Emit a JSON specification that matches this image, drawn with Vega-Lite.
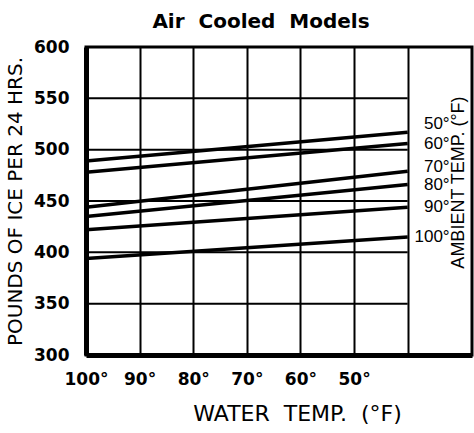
{
  "$schema": "https://vega.github.io/schema/vega-lite/v6.json",
  "width": 386,
  "height": 308,
  "autosize": "none",
  "padding": {"left": 86, "top": 47, "right": 2, "bottom": 78},
  "background": "white",
  "title": {
    "text": "Air\u00a0\u00a0Cooled\u00a0\u00a0Models",
    "font": "DejaVu Sans",
    "fontSize": 20,
    "fontWeight": "bold",
    "color": "black",
    "anchor": "middle",
    "dx": -18,
    "offset": 6
  },
  "config": {
    "view": {"stroke": "black", "strokeWidth": 3},
    "axis": {"domainColor": "black", "domainWidth": 5, "ticks": false, "labelColor": "black", "titleColor": "black"}
  },
  "datasets": {
    "lines": [
      {"water": 100, "ice": 489, "ambient": 50, "label": "50°"},
      {"water": 40, "ice": 517, "ambient": 50, "label": "50°"},
      {"water": 100, "ice": 478, "ambient": 60, "label": "60°"},
      {"water": 40, "ice": 506, "ambient": 60, "label": "60°"},
      {"water": 100, "ice": 444, "ambient": 70, "label": "70°"},
      {"water": 40, "ice": 479, "ambient": 70, "label": "70°"},
      {"water": 100, "ice": 435, "ambient": 80, "label": "80°"},
      {"water": 40, "ice": 466, "ambient": 80, "label": "80°"},
      {"water": 100, "ice": 422, "ambient": 90, "label": "90°"},
      {"water": 40, "ice": 444, "ambient": 90, "label": "90°"},
      {"water": 100, "ice": 394, "ambient": 100, "label": "100°"},
      {"water": 40, "ice": 415, "ambient": 100, "label": "100°"}
    ],
    "grid": [{"g": 350}, {"g": 400}, {"g": 450}, {"g": 500}, {"g": 550}],
    "side": [{"t": "AMBIENT TEMP. (°F)"}]
  },
  "layer": [
    {
      "data": {"name": "grid"},
      "mark": {"type": "rule", "color": "black", "strokeWidth": 2},
      "encoding": {
        "y": {"field": "g", "type": "quantitative"},
        "x": {"datum": 100},
        "x2": {"datum": 40}
      }
    },
    {
      "data": {"name": "lines"},
      "mark": {"type": "line", "color": "black", "strokeWidth": 3.5},
      "encoding": {
        "x": {
          "field": "water",
          "type": "quantitative",
          "scale": {"domain": [28, 100], "reverse": true, "nice": false, "zero": false},
          "axis": {
            "values": [40, 50, 60, 70, 80, 90, 100],
            "labelExpr": "datum.value == 40 ? '' : datum.value + '°'",
            "labelFont": "DejaVu Sans",
            "labelFontSize": 17,
            "labelFontWeight": "bold",
            "labelPadding": 16,
            "labelOverlap": false,
            "labelFlush": false,
            "labelBound": false,
            "grid": true,
            "gridColor": "black",
            "gridWidth": 2,
            "gridOpacity": 1,
            "title": "WATER\u00a0\u00a0TEMP.\u00a0\u00a0(°F)",
            "titleFont": "DejaVu Sans",
            "titleFontSize": 22,
            "titleFontWeight": "normal",
            "titlePadding": 16,
            "titleX": 211,
            "titleAnchor": "middle"
          }
        },
        "y": {
          "field": "ice",
          "type": "quantitative",
          "scale": {"domain": [300, 600], "nice": false, "zero": false},
          "axis": {
            "values": [300, 350, 400, 450, 500, 550, 600],
            "labelFont": "DejaVu Sans",
            "labelFontSize": 17,
            "labelFontWeight": "bold",
            "labelPadding": 17,
            "labelOverlap": false,
            "labelFlush": false,
            "labelBound": false,
            "grid": false,
            "title": "POUNDS OF ICE PER 24 HRS.",
            "titleFont": "DejaVu Sans",
            "titleFontSize": 20,
            "titleFontWeight": "normal",
            "titlePadding": 8
          }
        },
        "detail": {"field": "ambient", "type": "nominal"}
      }
    },
    {
      "data": {"name": "lines"},
      "transform": [{"filter": "datum.water == 40 && datum.ambient != 50 && datum.ambient != 70"}],
      "mark": {"type": "text", "align": "right", "baseline": "middle", "dx": 42, "font": "Liberation Sans", "fontSize": 17, "color": "black"},
      "encoding": {
        "x": {"field": "water", "type": "quantitative"},
        "y": {"field": "ice", "type": "quantitative"},
        "text": {"field": "label"}
      }
    },
    {
      "data": {"name": "lines"},
      "transform": [{"filter": "datum.water == 40 && datum.ambient == 70"}],
      "mark": {"type": "text", "align": "right", "baseline": "middle", "dx": 42, "dy": -4, "font": "Liberation Sans", "fontSize": 17, "color": "black"},
      "encoding": {
        "x": {"field": "water", "type": "quantitative"},
        "y": {"field": "ice", "type": "quantitative"},
        "text": {"field": "label"}
      }
    },
    {
      "data": {"name": "lines"},
      "transform": [{"filter": "datum.water == 40 && datum.ambient == 50"}],
      "mark": {"type": "text", "align": "right", "baseline": "middle", "dx": 42, "dy": -8, "font": "Liberation Sans", "fontSize": 17, "color": "black"},
      "encoding": {
        "x": {"field": "water", "type": "quantitative"},
        "y": {"field": "ice", "type": "quantitative"},
        "text": {"field": "label"}
      }
    },
    {
      "data": {"name": "side"},
      "mark": {"type": "text", "align": "center", "baseline": "middle", "angle": 270, "font": "Liberation Sans", "fontSize": 18, "color": "black"},
      "encoding": {
        "x": {"datum": 30.5},
        "y": {"datum": 468},
        "text": {"field": "t"}
      }
    }
  ]
}
